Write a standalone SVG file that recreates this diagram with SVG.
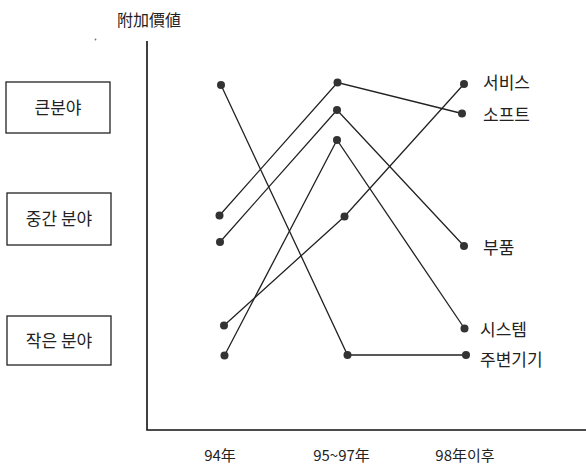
<svg xmlns="http://www.w3.org/2000/svg" width="586" height="467" viewBox="0 0 586 467">
<style>
text{font-family:"Noto Sans CJK KR","Noto Sans",sans-serif;fill:#222;font-size:17px}
.box{fill:#fff;stroke:#222;stroke-width:1.3}
.ln{fill:none;stroke:#222;stroke-width:1.3}
.ax{fill:none;stroke:#111;stroke-width:1.6}
.dot{fill:#333}
.xl{font-size:15px}
</style>
<rect width="586" height="467" fill="#fff"/>
<g id="axes">
<polyline class="ax" points="147,41 147,430 586,430"/>
<text x="149" y="26" text-anchor="middle" style="font-size:16px">附加價値</text>
<circle cx="95.5" cy="39.5" r="0.9" fill="#777"/>
</g>
<g id="box-large"><rect class="box" x="6" y="82" width="104" height="51"/><text x="58" y="113.5" text-anchor="middle">큰분야</text></g>
<g id="box-mid"><rect class="box" x="7" y="193" width="104" height="52"/><text x="59" y="224.5" text-anchor="middle">중간 분야</text></g>
<g id="box-small"><rect class="box" x="7" y="316" width="104" height="49"/><text x="59" y="347" text-anchor="middle">작은 분야</text></g>
<g id="connectors">
<polyline class="ln" points="221,85 347.5,355 466,355"/>
<polyline class="ln" points="219.5,215.5 337.5,82.5 462,113.5"/>
<polyline class="ln" points="220,242 337,110 464,246"/>
<polyline class="ln" points="224.5,355.5 337,140 464.5,328.5"/>
<polyline class="ln" points="224,325.5 344.5,216.5 464,84"/>
</g>
<g id="points">
<circle class="dot" cx="221" cy="85" r="4"/>
<circle class="dot" cx="219.5" cy="215.5" r="4"/>
<circle class="dot" cx="220" cy="242" r="4"/>
<circle class="dot" cx="224" cy="325.5" r="4"/>
<circle class="dot" cx="224.5" cy="355.5" r="4"/>
<circle class="dot" cx="337.5" cy="82.5" r="4"/>
<circle class="dot" cx="337" cy="110" r="4"/>
<circle class="dot" cx="337" cy="140" r="4"/>
<circle class="dot" cx="344.5" cy="216.5" r="4"/>
<circle class="dot" cx="347.5" cy="355" r="4"/>
<circle class="dot" cx="464" cy="84" r="4"/>
<circle class="dot" cx="462" cy="113.5" r="4"/>
<circle class="dot" cx="464" cy="246" r="4"/>
<circle class="dot" cx="464.5" cy="328.5" r="4"/>
<circle class="dot" cx="466" cy="355" r="4"/>
</g>
<g id="labels-right">
<text x="483" y="88.5">서비스</text>
<text x="483" y="120.5">소프트</text>
<text x="483" y="254">부품</text>
<text x="480" y="336">시스템</text>
<text x="480" y="366">주변기기</text>
</g>
<g id="labels-x">
<text class="xl" x="220" y="461" text-anchor="middle">94年</text>
<text class="xl" x="341.5" y="461" text-anchor="middle">95~97年</text>
<text class="xl" x="465" y="461" text-anchor="middle">98年이후</text>
</g>
</svg>
